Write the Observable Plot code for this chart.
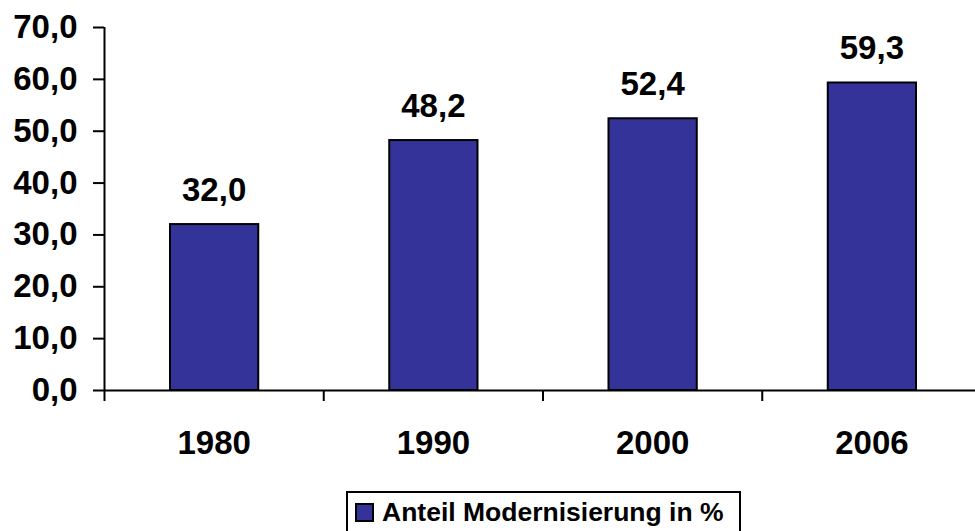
<!DOCTYPE html>
<html>
<head>
<meta charset="utf-8">
<script src="https://cdn.jsdelivr.net/npm/d3@7"></script>
<script src="https://cdn.jsdelivr.net/npm/@observablehq/plot@0.6"></script>
<style>
  html, body { margin: 0; padding: 0; background: #fff; overflow: hidden; }
  #wrap { position: relative; width: 975px; height: 531px; font-family: "Liberation Sans", Arial, sans-serif; }
  #chart svg { display: block; }
  #legend {
    position: absolute; left: 346px; top: 491px; width: 391px; height: 60px;
    border: 2px solid #000; box-sizing: content-box; background: #fff;
  }
  #legend .sw {
    position: absolute; left: 7px; top: 10px; width: 15px; height: 15px;
    background: #333399; border: 2px solid #000;
  }
  #legend .lbl {
    position: absolute; left: 34px; top: 4px; font: bold 26.5px "Liberation Sans", Arial, sans-serif;
    color: #000; white-space: nowrap; line-height: 30px;
  }
</style>
</head>
<body>
<div id="wrap">
  <div id="chart"></div>
  <div id="legend"><div class="sw"></div><div class="lbl"></div></div>
</div>
<script>
const years = ["1980", "1990", "2000", "2006"];
const values = [32.0, 48.2, 52.4, 59.3];
const yTicks = [0, 10, 20, 30, 40, 50, 60, 70];
const seriesName = "Anteil Modernisierung in %";

const data = years.map((year, i) => ({i, year, value: values[i]}));
const fmt = v => v.toFixed(1).replace(".", ",");

const chart = Plot.plot({
  width: 975,
  height: 480,
  marginLeft: 104,
  marginRight: 0,
  marginTop: 27,
  marginBottom: 90,
  style: {fontFamily: "'Liberation Sans', Arial, sans-serif", fontSize: "33px", fontWeight: "bold", color: "#000", background: "#fff"},
  x: {domain: [0, years.length], range: [104, 981]},
  y: {domain: [0, 70]},
  marks: [
    Plot.rectY(data, {x1: d => d.i, x2: d => d.i + 1, y: "value", insetLeft: 66, insetRight: 65,
      fill: "#333399", stroke: "#000", strokeWidth: 2}),
    Plot.text(data, {x: d => d.i + 0.5, y: "value", text: d => fmt(d.value), dy: -24,
      lineAnchor: "bottom", fontSize: 33, fontWeight: "bold", fill: "#000"}),
    Plot.axisY({ticks: yTicks, tickFormat: fmt, tickSize: 11, tickPadding: 16, strokeWidth: 2, label: null}),
    Plot.axisX({ticks: years.map((y, i) => i), tickFormat: () => "", tickSize: 11, strokeWidth: 2, label: null}),
    Plot.axisX({ticks: years.map((y, i) => i + 0.5), tickFormat: d => years[d - 0.5], tickSize: 0, tickPadding: 40, label: null}),
    Plot.ruleX([0], {strokeWidth: 2}),
    Plot.ruleY([0], {strokeWidth: 2})
  ]
});
document.getElementById("chart").appendChild(chart);
document.querySelector("#legend .lbl").textContent = seriesName;
</script>
</body>
</html>
